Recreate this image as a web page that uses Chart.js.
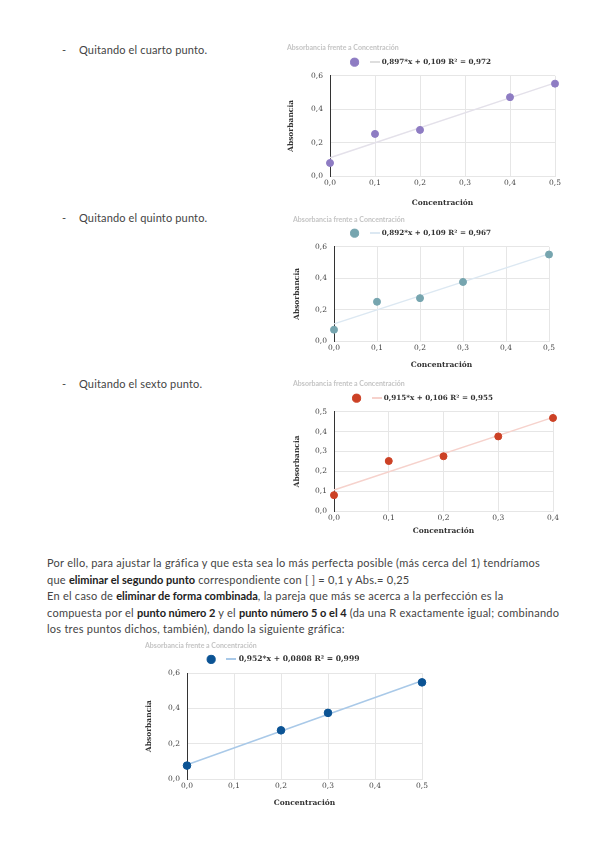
<!DOCTYPE html>
<html>
<head>
<meta charset="utf-8">
<script src="https://cdn.jsdelivr.net/npm/chart.js@4.4.1/dist/chart.umd.min.js"></script>
<style>
  body { margin: 0; background: #fff; width: 600px; height: 848px; position: relative; overflow: hidden; font-family: Lato, "Noto Sans", sans-serif; color: #444; }
  .item { position: absolute; left: 62px; font-size: 11px; line-height: 14px; white-space: nowrap; letter-spacing: 0.15px; }
  .item span { position: absolute; left: 17px; }
  .par { position: absolute; left: 47px; top: 555px; font-size: 11px; line-height: 16.5px; white-space: nowrap; letter-spacing: 0.25px; }
  .par b { color: #222; letter-spacing: 0; }
  .box { position: absolute; }
</style>
</head>
<body>

<div class="item" style="top:43px">-<span>Quitando el cuarto punto.</span></div>
<div class="box" style="left:283px;top:40px"><canvas id="c1" width="291" height="172"></canvas></div>

<div class="item" style="top:211px">-<span>Quitando el quinto punto.</span></div>
<div class="box" style="left:289px;top:212px"><canvas id="c2" width="278" height="162"></canvas></div>

<div class="item" style="top:377px">-<span>Quitando el sexto punto.</span></div>
<div class="box" style="left:289px;top:377px"><canvas id="c3" width="284" height="163"></canvas></div>

<div class="par">
Por ello, para ajustar la gráfica y que esta sea lo más perfecta posible (más cerca del 1) tendríamos<br>
que <b>eliminar el segundo punto</b> correspondiente con [ ] = 0,1 y Abs.= 0,25<br>
En el caso de <b>eliminar de forma combinada</b>, la pareja que más se acerca a la perfección es la<br>
compuesta por el <b>punto número 2</b> y el <b>punto número 5 o el 4</b> (da una R exactamente igual; combinando<br>
los tres puntos dichos, también), dando la siguiente gráfica:
</div>

<div class="box" style="left:141px;top:640px"><canvas id="c4" width="290" height="172"></canvas></div>

<script>
const chartTitle = 'Absorbancia frente a Concentración';
const xTitle = 'Concentración';
const yTitle = 'Absorbancia';

// quitando el cuarto punto
const conc1 = [0.0, 0.1, 0.2, 0.4, 0.5];
const abs1 = [0.078, 0.252, 0.276, 0.472, 0.553];
const fit1 = [0.897, 0.109];
const eq1 = '0,897*x + 0,109 R² = 0,972';

// quitando el quinto punto
const conc2 = [0.0, 0.1, 0.2, 0.3, 0.5];
const abs2 = [0.072, 0.250, 0.273, 0.376, 0.551];
const fit2 = [0.892, 0.109];
const eq2 = '0,892*x + 0,109 R² = 0,967';

// quitando el sexto punto
const conc3 = [0.0, 0.1, 0.2, 0.3, 0.4];
const abs3 = [0.080, 0.252, 0.276, 0.376, 0.469];
const fit3 = [0.915, 0.106];
const eq3 = '0,915*x + 0,106 R² = 0,955';

// combinada (sin puntos 2 y 5)
const conc4 = [0.0, 0.2, 0.3, 0.5];
const abs4 = [0.076, 0.276, 0.375, 0.548];
const fit4 = [0.952, 0.0808];
const eq4 = '0,952*x + 0,0808 R² = 0,999';

const comma = v => v.toFixed(1).replace('.', ',');
const serif = '"DejaVu Serif", "Liberation Serif", serif';

// short line used as the legend icon of the trendline
function lineIcon(color) {
  const c = document.createElement('canvas');
  c.width = 10;
  c.height = 2;
  const g = c.getContext('2d');
  g.fillStyle = color;
  g.fillRect(0, 0, c.width, c.height);
  return c;
}

function makeChart(id, conc, abs, fit, eq, o) {
  const pts = conc.map((x, i) => ({ x: x, y: abs[i] }));
  const trend = [0, o.xMax].map(x => ({ x: x, y: fit[0] * x + fit[1] }));
  return new Chart(document.getElementById(id), {
    type: 'scatter',
    data: {
      datasets: [{
        label: '',
        data: pts,
        backgroundColor: o.color,
        borderColor: o.color,
        pointRadius: o.r,
        pointHoverRadius: o.r,
        clip: false,
        order: 0
      }, {
        type: 'line',
        label: eq,
        data: trend,
        borderColor: o.trend,
        backgroundColor: o.trend,
        borderWidth: 1.5,
        pointRadius: 0,
        pointStyle: lineIcon(o.icon || o.trend),
        fill: false,
        clip: false,
        order: 1
      }]
    },
    options: {
      responsive: false,
      animation: false,
      layout: { padding: { top: o.padTop, right: o.padRight, left: 4, bottom: 0 } },
      plugins: {
        tooltip: { enabled: false },
        title: {
          display: true,
          text: chartTitle,
          align: 'start',
          color: '#c4c4c4',
          font: { size: 7, family: 'Lato' },
          padding: { top: 0, bottom: o.titleGap }
        },
        legend: {
          labels: {
            usePointStyle: true,
            boxWidth: 7.2,
            boxHeight: 5.8,
            padding: o.legendPad || 9.2,
            color: '#333',
            font: { size: o.legendSize || 7.2, weight: 'bold', family: serif }
          }
        }
      },
      scales: {
        x: {
          type: 'linear',
          min: 0,
          max: o.xMax,
          ticks: { stepSize: 0.1, callback: comma, color: '#444', font: { size: 7.5, family: serif }, padding: 3, maxRotation: 0 },
          grid: { color: '#e6e6e6', drawTicks: false },
          border: { color: '#e6e6e6' },
          title: { display: true, text: xTitle, color: '#333', font: { size: 7.5, weight: 'bold', family: serif }, padding: { top: 8 } },
          afterFit: s => { s.height = o.xH; }
        },
        y: {
          min: 0,
          max: o.yMax,
          ticks: { stepSize: o.yStep, callback: comma, color: '#444', font: { size: 7.5, family: serif }, padding: 7 },
          grid: { color: '#e6e6e6', drawTicks: false },
          border: { color: '#333', width: 1 },
          title: { display: true, text: yTitle, color: '#333', font: { size: 7.5, weight: 'bold', family: serif }, padding: 0 },
          afterFit: s => { s.width = o.yW; }
        }
      }
    }
  });
}

makeChart('c1', conc1, abs1, fit1, eq1, { color: '#8e7cc3', trend: '#e4e1ea', icon: '#dedede', r: 3.5, xMax: 0.5, yMax: 0.6, yStep: 0.2, yW: 43, xH: 36, padTop: 4, titleGap: -3, padRight: 19 });
makeChart('c2', conc2, abs2, fit2, eq2, { color: '#76a5af', trend: '#dce8f2', r: 3.5, xMax: 0.5, yMax: 0.6, yStep: 0.2, yW: 41, xH: 33, padTop: 4, titleGap: -4, padRight: 18 });
makeChart('c3', conc3, abs3, fit3, eq3, { color: '#cc4125', trend: '#f6d2cc', r: 3.5, xMax: 0.4, yMax: 0.5, yStep: 0.1, yW: 41, xH: 29, padTop: 3, titleGap: -3, padRight: 20 });
makeChart('c4', conc4, abs4, fit4, eq4, { color: '#0b5394', trend: '#a9c9e8', r: 3.8, legendSize: 7.6, xMax: 0.5, yMax: 0.6, yStep: 0.2, yW: 42, xH: 33, padTop: 2, titleGap: -4, padRight: 9 });
</script>
</body>
</html>
